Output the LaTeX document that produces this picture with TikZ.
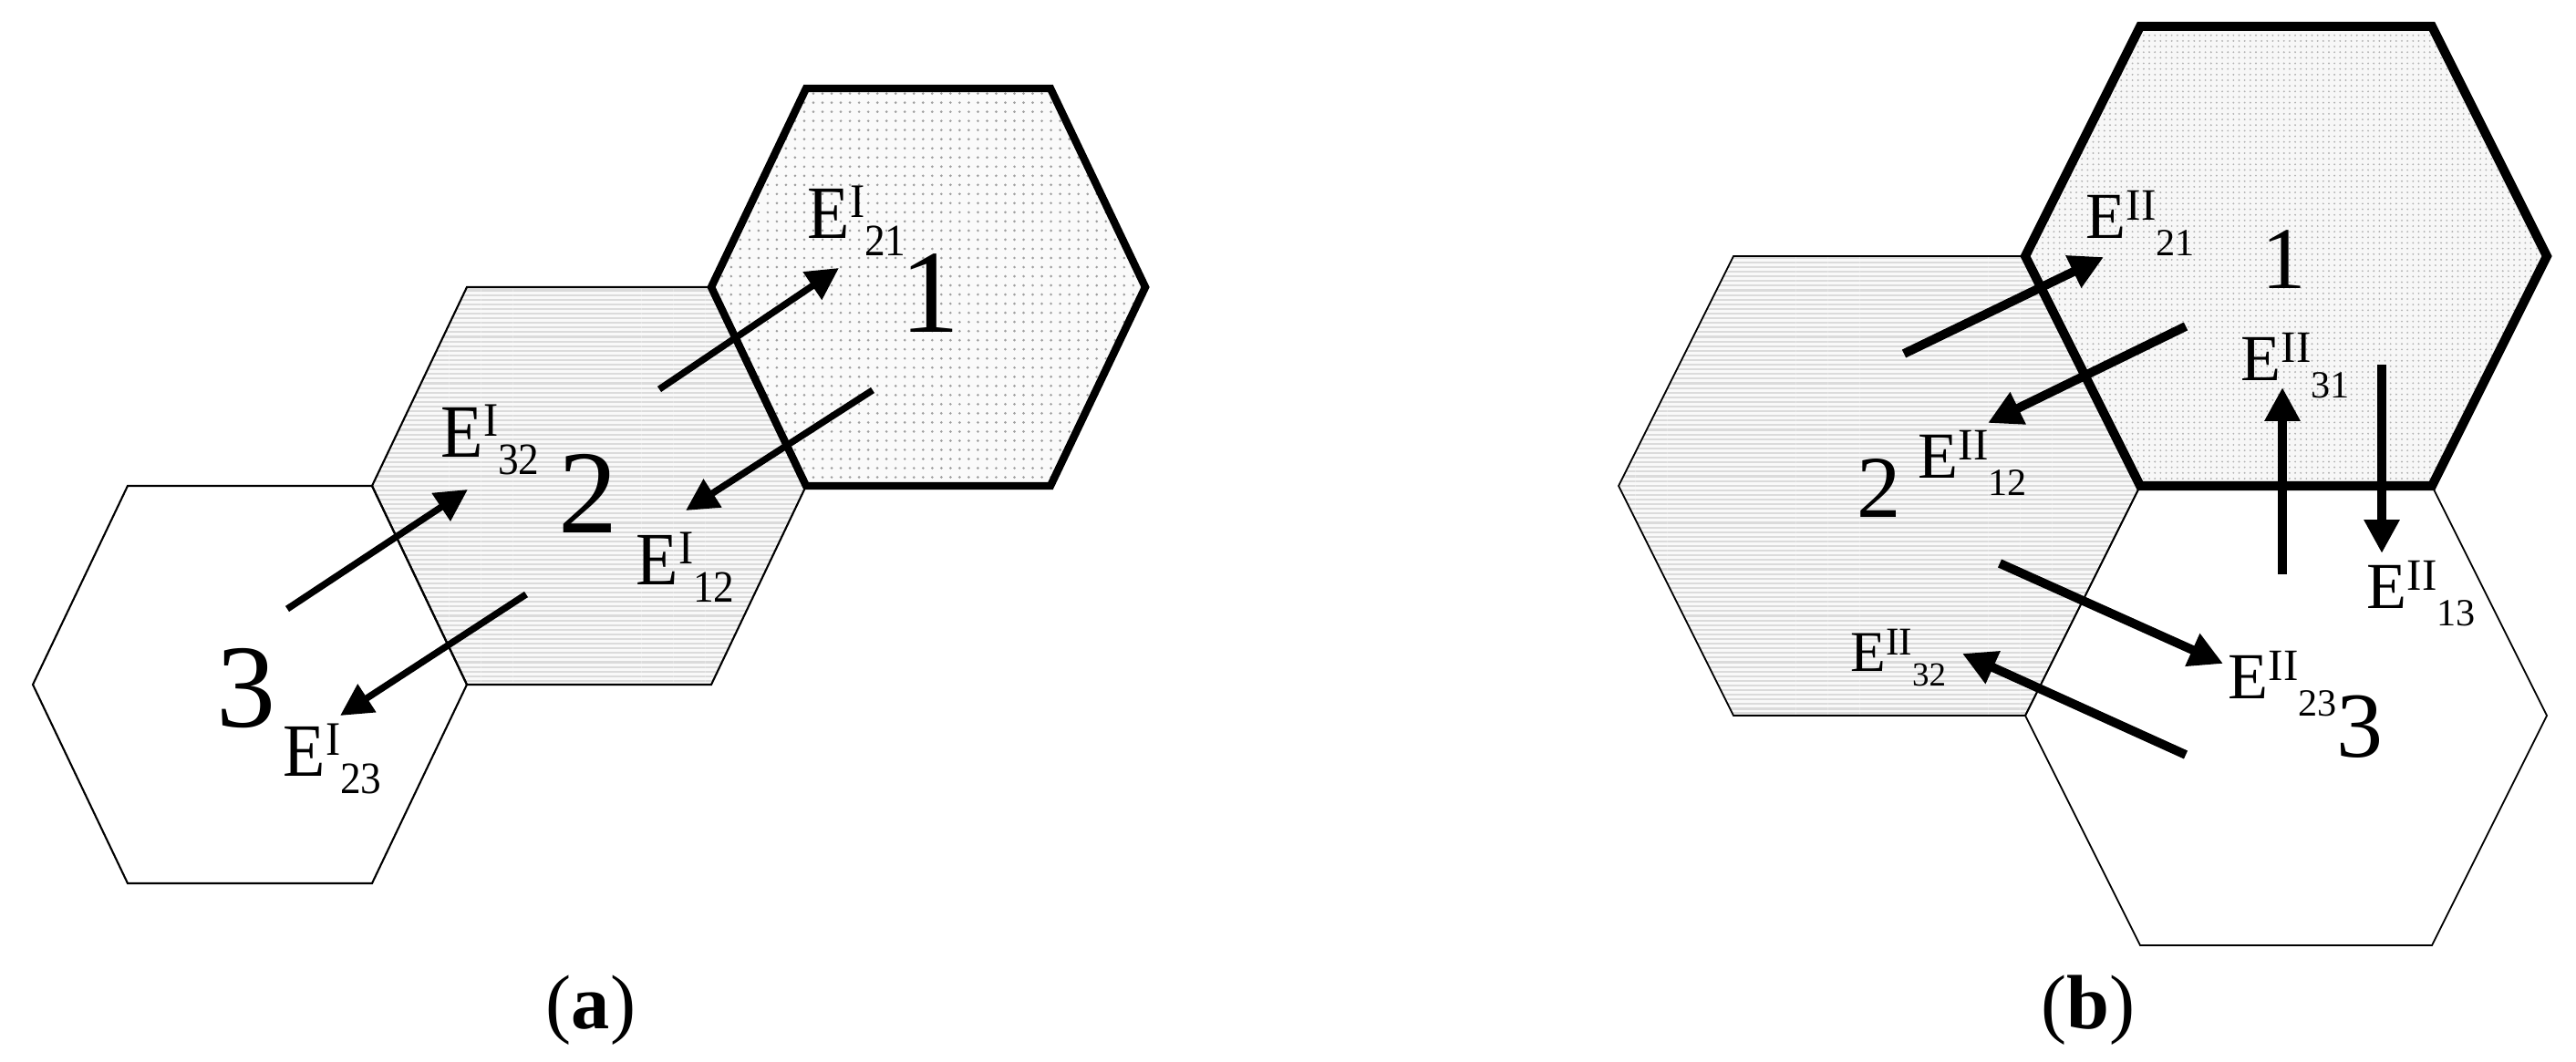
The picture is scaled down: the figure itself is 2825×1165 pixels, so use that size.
\documentclass[tikz,border=0pt]{standalone}
\usepackage{fontspec}
\setmainfont{Liberation Serif}
\usetikzlibrary{arrows.meta,patterns.meta}

\tikzdeclarepattern{
  name=hstripes,
  bounding box={(0pt,-0.3pt) and (10pt,0.3pt)},
  tile size={(10pt,1.45pt)},
  code={\fill (0pt,-0.3pt) rectangle (10pt,0.3pt);}
}
\tikzdeclarepattern{
  name=dotsA,
  bounding box={(-0.5pt,-0.5pt) and (0.5pt,0.5pt)},
  tile size={(2.85pt,2.85pt)},
  code={\fill (0pt,0pt) circle (0.42pt);}
}
\tikzdeclarepattern{
  name=dotsB,
  bounding box={(-0.4pt,-0.4pt) and (0.4pt,0.4pt)},
  tile size={(1.75pt,1.75pt)},
  code={\fill (0pt,0pt) circle (0.3pt);}
}

% #1 sup size, #2 sub size, #3 sup text, #4 sub text, #5 sub drop
\newcommand{\El}[5]{E\raisebox{.29em}{\fontsize{#1}{#1}\selectfont #3}\raisebox{-#5}{\fontsize{#2}{#2}\selectfont #4}}
\newcommand{\ElA}[2]{\scalebox{0.92}[1]{\El{15pt}{14pt}{I}{#2}{.22em}}}
\newcommand{\ElB}[2]{\El{14pt}{12pt}{II}{#2}{.25em}}

\begin{document}
\begin{tikzpicture}[x=0.01cm,y=-0.01cm,
  stripefill/.style={fill=gray!5,postaction={pattern=hstripes,pattern color=gray!28}},
  dotfillA/.style={fill=gray!4,postaction={pattern=dotsA,pattern color=gray!75}},
  dotfillB/.style={fill=gray!6,postaction={pattern=dotsB,pattern color=gray!60}},
  thinA/.style={draw=black,line width=0.6pt,line join=miter},
  thickA/.style={draw=black,line width=2.4pt,line join=miter},
  thinB/.style={draw=black,line width=0.5pt,line join=miter},
  thickB/.style={draw=black,line width=2.85pt,line join=miter},
  arrA/.style={line width=2.1pt,-{Triangle[length=10pt,width=10pt]}},
  arrB/.style={line width=2.8pt,-{Triangle[length=10.5pt,width=10.5pt]}},
  labA/.style={anchor=base west,inner sep=0pt,font=\fontsize{23.5pt}{23.5pt}\selectfont},
  labB/.style={anchor=base west,inner sep=0pt,font=\fontsize{20.5pt}{20.5pt}\selectfont},
  labBs/.style={anchor=base west,inner sep=0pt,font=\fontsize{18pt}{18pt}\selectfont},
  numA/.style={anchor=base,inner sep=0pt,font=\fontsize{37pt}{37pt}\selectfont},
  numB/.style={anchor=base,inner sep=0pt,font=\fontsize{27.5pt}{27.5pt}\selectfont},
  captxt/.style={anchor=base,inner sep=0pt,font=\fontsize{24pt}{24pt}\selectfont}
]
\useasboundingbox (0,0) rectangle (2825,1165);

% ---------------- panel (a) ----------------
\path[stripefill] (408,533) -- (512,315) -- (780,315) -- (884,533) -- (780,751) -- (512,751) -- cycle;
\path[dotfillA] (780,315) -- (884,97) -- (1152,97) -- (1256,315) -- (1152,533) -- (884,533) -- cycle;
\path[thinA] (36,751) -- (140,533) -- (408,533) -- (512,751) -- (408,969) -- (140,969) -- cycle;
\path[thinA] (408,533) -- (512,315) -- (780,315) -- (884,533) -- (780,751) -- (512,751) -- cycle;
\path[thickA] (780,315) -- (884,97) -- (1152,97) -- (1256,315) -- (1152,533) -- (884,533) -- cycle;

\coordinate (a21s) at (723,427);  \coordinate (a21e) at (920,294);
\coordinate (a12s) at (957,428);  \coordinate (a12e) at (752,560);
\coordinate (a32s) at (315,668);  \coordinate (a32e) at (513,537);
\coordinate (a23s) at (577,652);  \coordinate (a23e) at (373,785);
\draw[arrA] (a21s) -- (a21e);
\draw[arrA] (a12s) -- (a12e);
\draw[arrA] (a32s) -- (a32e);
\draw[arrA] (a23s) -- (a23e);

\node[labA] (lA21) at (885,262) {\ElA{I}{21}};
\node[labA] (lA32) at (483,502) {\ElA{I}{32}};
\node[labA] (lA12) at (697,642) {\ElA{I}{12}};
\node[labA] (lA23) at (310,852) {\ElA{I}{23}};
\node[numA] (nA1) at (1020,365) {\makebox[0.28em]{1}};
\node[numA] (nA2) at (645,585) {2};
\node[numA] (nA3) at (270,798) {3};
\node[captxt] (capA) at (648,1128) {(\textbf{a})};

% ---------------- panel (b) ----------------
\path[stripefill] (1775,533) -- (1901,281) -- (2221,281) -- (2347,533) -- (2221,785) -- (1901,785) -- cycle;
\path[dotfillB] (2221,281) -- (2347,29) -- (2667,29) -- (2793,281) -- (2667,533) -- (2347,533) -- cycle;
\path[thinB] (1775,533) -- (1901,281) -- (2221,281) -- (2347,533) -- (2221,785) -- (1901,785) -- cycle;
\path[thinB] (2221,785) -- (2347,533) -- (2667,533) -- (2793,785) -- (2667,1037) -- (2347,1037) -- cycle;
\path[thickB] (2221,281) -- (2347,29) -- (2667,29) -- (2793,281) -- (2667,533) -- (2347,533) -- cycle;

\coordinate (b21s) at (2088,388); \coordinate (b21e) at (2307,282);
\coordinate (b12s) at (2397,358); \coordinate (b12e) at (2180,464);
\coordinate (b31s) at (2503,630); \coordinate (b31e) at (2503,425);
\coordinate (b13s) at (2612,400); \coordinate (b13e) at (2612,607);
\coordinate (b23s) at (2193,618); \coordinate (b23e) at (2438,728);
\coordinate (b32s) at (2397,828); \coordinate (b32e) at (2152,717);
\draw[arrB] (b21s) -- (b21e);
\draw[arrB] (b12s) -- (b12e);
\draw[arrB] (b31s) -- (b31e);
\draw[arrB] (b13s) -- (b13e);
\draw[arrB] (b23s) -- (b23e);
\draw[arrB] (b32s) -- (b32e);

\node[labB] (lB21) at (2287,262) {\ElB{II}{21}};
\node[labB] (lB12) at (2103,525) {\ElB{II}{12}};
\node[labB] (lB31) at (2457,418) {\ElB{II}{31}};
\node[labB] (lB13) at (2595,668) {\ElB{II}{13}};
\node[labB] (lB23) at (2443,767) {\ElB{II}{23}};
\node[labBs] (lB32) at (2029,737) {\El{12.3pt}{10.5pt}{II}{32}{.25em}};
\node[numB] (nB1) at (2505,317) {1};
\node[numB] (nB2) at (2061,568) {2};
\node[numB,font=\fontsize{29pt}{29pt}\selectfont] (nB3) at (2588,831) {3};
\node[captxt] (capB) at (2290,1128) {(\textbf{b})};
\end{tikzpicture}
\end{document}
